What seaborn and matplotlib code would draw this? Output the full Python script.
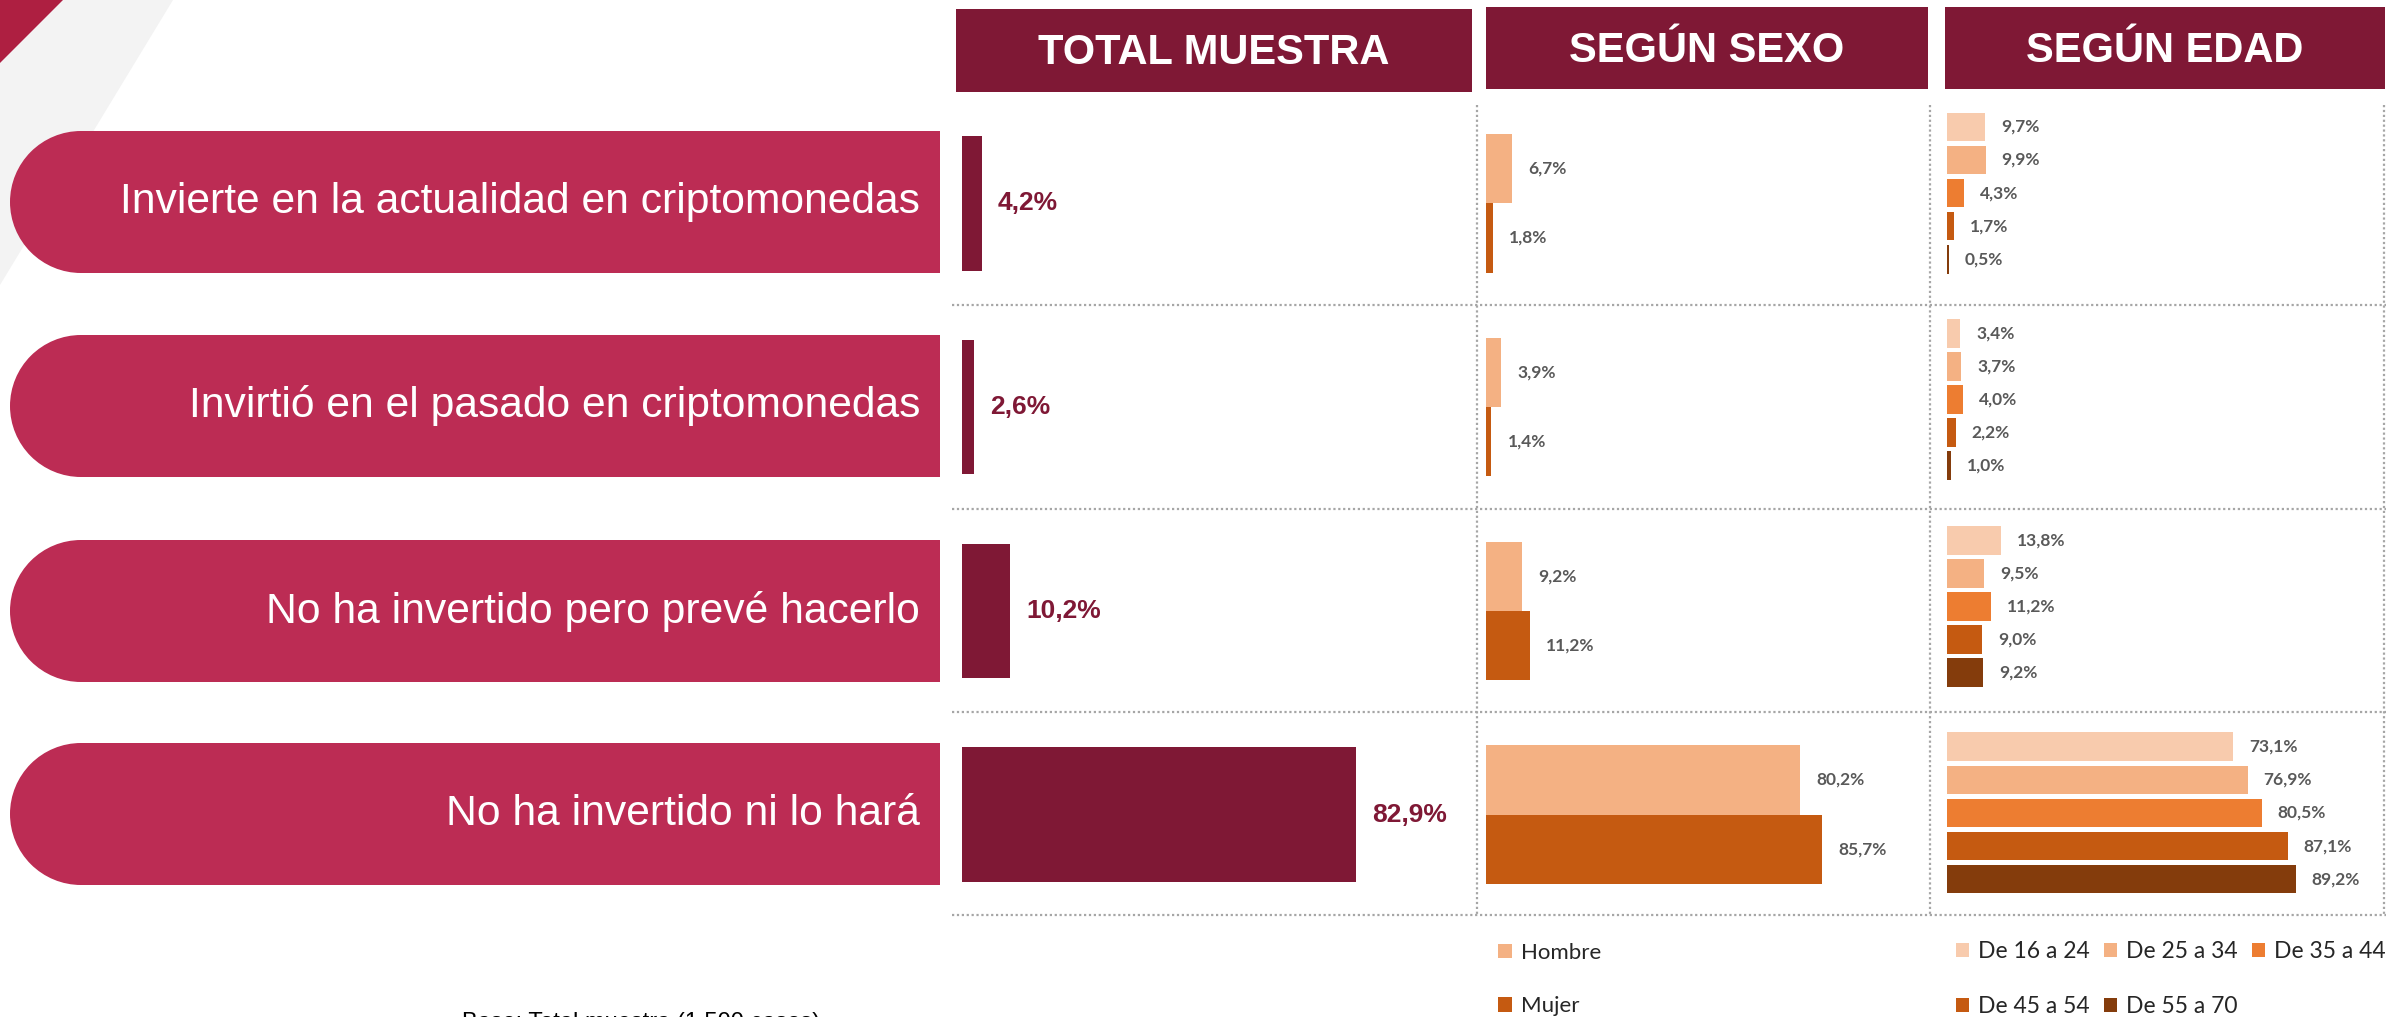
import numpy as np
import pandas as pd
import matplotlib
matplotlib.use("Agg")
import matplotlib.pyplot as plt
import seaborn as sns
from matplotlib.patches import Rectangle, Wedge, Polygon, Patch

# ---------------- data ----------------
categorias = ["Invierte en la actualidad en criptomonedas",
              "Invirtió en el pasado en criptomonedas",
              "No ha invertido pero prevé hacerlo",
              "No ha invertido ni lo hará"]
total_muestra = [4.2, 2.6, 10.2, 82.9]
sexo_niveles = ["Hombre", "Mujer"]
hombre = [6.7, 3.9, 9.2, 80.2]
mujer = [1.8, 1.4, 11.2, 85.7]
edad_niveles = ["De 16 a 24", "De 25 a 34", "De 35 a 44", "De 45 a 54", "De 55 a 70"]
edad_16_24 = [9.7, 3.4, 13.8, 73.1]
edad_25_34 = [9.9, 3.7, 9.5, 76.9]
edad_35_44 = [4.3, 4.0, 11.2, 80.5]
edad_45_54 = [1.7, 2.2, 9.0, 87.1]
edad_55_70 = [0.5, 1.0, 9.2, 89.2]
titulos = ["TOTAL MUESTRA", "SEGÚN SEXO", "SEGÚN EDAD"]
nota = "Base: Total muestra (1.500 casos)"

# ---------------- style ----------------
sns.set_theme(style="white")
plt.rcParams["font.family"] = ["Liberation Sans", "DejaVu Sans"]

MAROON = "#7F1835"
PILL = "#BC2C54"
col_sexo = ["#F4B183", "#C55A11"]
col_edad = ["#F8CBAD", "#F4B183", "#ED7D31", "#C55A11", "#843C0C"]
LABEL_GREY = "#595959"
SMALL_FONT = ["Lato", "DejaVu Sans"]

W, H = 2390, 1017
fig = plt.figure(figsize=(W / 100, H / 100), dpi=100)


def fbox(x0, y0, x1, y1):
    return [x0 / W, 1 - y1 / H, (x1 - x0) / W, (y1 - y0) / H]


def fmt(v):
    return f"{v:.1f}".replace(".", ",") + "%"


# ---------------- background / decoration axes ----------------
bg = fig.add_axes([0, 0, 1, 1], zorder=0)
bg.set_xlim(0, W)
bg.set_ylim(H, 0)
bg.axis("off")

bg.add_patch(Polygon([(63, 0), (173, 0), (0, 285), (0, 63)], closed=True,
                     facecolor="#F3F3F3", edgecolor="none"))
bg.add_patch(Polygon([(0, 0), (63, 0), (0, 63)], closed=True,
                     facecolor="#AE1F41", edgecolor="none"))

row_c = [202, 406, 611, 814]
for cy, txt in zip(row_c, categorias):
    bg.add_patch(Wedge((81, cy), 71, 90, 270, facecolor=PILL, edgecolor="none"))
    bg.add_patch(Rectangle((80, cy - 71), 940 - 80, 142, facecolor=PILL, edgecolor="none"))
    bg.text(920, cy, txt, ha="right", va="center", color="white", fontsize=30.7)

headers = [(956, 9, 1472, 92), (1486, 7, 1928, 89), (1945, 7, 2385, 89)]
for (x0, y0, x1, y1), t in zip(headers, titulos):
    bg.add_patch(Rectangle((x0, y0), x1 - x0, y1 - y0, facecolor=MAROON, edgecolor="none"))
    bg.text((x0 + x1) / 2, (y0 + y1) / 2 + 3, t, ha="center", va="center",
            color="white", fontsize=30, fontweight="bold")

grid_kw = dict(color="#A6A6A6", lw=1.6, ls=(0, (1, 1.2)))
for y in [305, 509, 712, 915]:
    bg.plot([952, 2386], [y, y], **grid_kw)
for x in [1477, 1930, 2384]:
    bg.plot([x, x], [105, 915], **grid_kw)

bg.text(462, 1012, nota, ha="left", va="top", fontsize=17, color="black")

# ---------------- data frames ----------------
df_total = pd.DataFrame({"categoria": categorias, "valor": total_muestra})
df_sexo = pd.DataFrame({
    "categoria": categorias * 2,
    "grupo": [sexo_niveles[0]] * 4 + [sexo_niveles[1]] * 4,
    "valor": hombre + mujer,
})
edad_vals = [edad_16_24, edad_25_34, edad_35_44, edad_45_54, edad_55_70]
df_edad = pd.DataFrame({
    "categoria": categorias * 5,
    "grupo": [g for g in edad_niveles for _ in range(4)],
    "valor": [v for vals in edad_vals for v in vals],
})


def panel(x0, x1, pxper, y0, y1):
    ax = fig.add_axes(fbox(x0, y0, x1, y1), zorder=2)
    ax.set_facecolor("none")
    return ax, (x1 - x0) / pxper


# TOTAL
ax_t, xmax = panel(962, 1472, 4.75, 101.5, 916.5)
sns.barplot(data=df_total, x="valor", y="categoria", order=categorias, orient="h",
            color=MAROON, saturation=1, width=0.66, linewidth=0, errorbar=None, ax=ax_t)
for cont in ax_t.containers:
    ax_t.bar_label(cont, labels=[fmt(v) for v in total_muestra], padding=11.5,
                   fontsize=19, fontweight="bold", color=MAROON)
ax_t.set_xlim(0, xmax)

# SEXO
ax_s, xmax = panel(1486, 1928, 3.92, 101.5, 916.5)
sns.barplot(data=df_sexo, x="valor", y="categoria", hue="grupo", order=categorias,
            hue_order=sexo_niveles, palette=col_sexo, orient="h", saturation=1,
            width=0.68, linewidth=0, errorbar=None, legend=False, ax=ax_s)
for cont, vals in zip(ax_s.containers, [hombre, mujer]):
    ax_s.bar_label(cont, labels=[fmt(v) for v in vals], padding=11.5,
                   fontsize=12.5, fontweight="bold", color=LABEL_GREY, family=SMALL_FONT)
ax_s.set_xlim(0, xmax)

# EDAD
ax_e, xmax = panel(1947, 2384, 3.91, 89.7, 916.3)
sns.barplot(data=df_edad, x="valor", y="categoria", hue="grupo", order=categorias,
            hue_order=edad_niveles, palette=col_edad, orient="h", saturation=1,
            width=0.80, gap=0.13, linewidth=0, errorbar=None, legend=False, ax=ax_e)
for cont, vals in zip(ax_e.containers, edad_vals):
    ax_e.bar_label(cont, labels=[fmt(v) for v in vals], padding=11.5,
                   fontsize=12.5, fontweight="bold", color=LABEL_GREY, family=SMALL_FONT)
ax_e.set_xlim(0, xmax)

for ax in (ax_t, ax_s, ax_e):
    ax.set_ylim(3.5, -0.5)
    ax.set_xlabel("")
    ax.set_ylabel("")
    ax.set_xticks([])
    ax.set_yticks([])
    sns.despine(ax=ax, left=True, bottom=True)

# ---------------- legends ----------------
def leg_kw(size, hl):
    return dict(frameon=False, borderpad=0, borderaxespad=0, handlelength=hl,
                handleheight=hl, handletextpad=0.42, labelspacing=1.5,
                prop={"family": SMALL_FONT, "size": size}, loc="upper left")


h_sexo = [Patch(facecolor=c, edgecolor="none") for c in col_sexo]
fig.legend(h_sexo, sexo_niveles, bbox_to_anchor=(1498 / W, 1 - 943 / H), **leg_kw(16, 0.62))

h_edad = [Patch(facecolor=c, edgecolor="none") for c in col_edad]
order = [0, 3, 1, 4, 2]
fig.legend([h_edad[i] for i in order], [edad_niveles[i] for i in order], ncol=3,
           columnspacing=0.62, bbox_to_anchor=(1956 / W, 1 - 941 / H), **leg_kw(16.5, 0.55))

fig.savefig("out.png", dpi=100)
